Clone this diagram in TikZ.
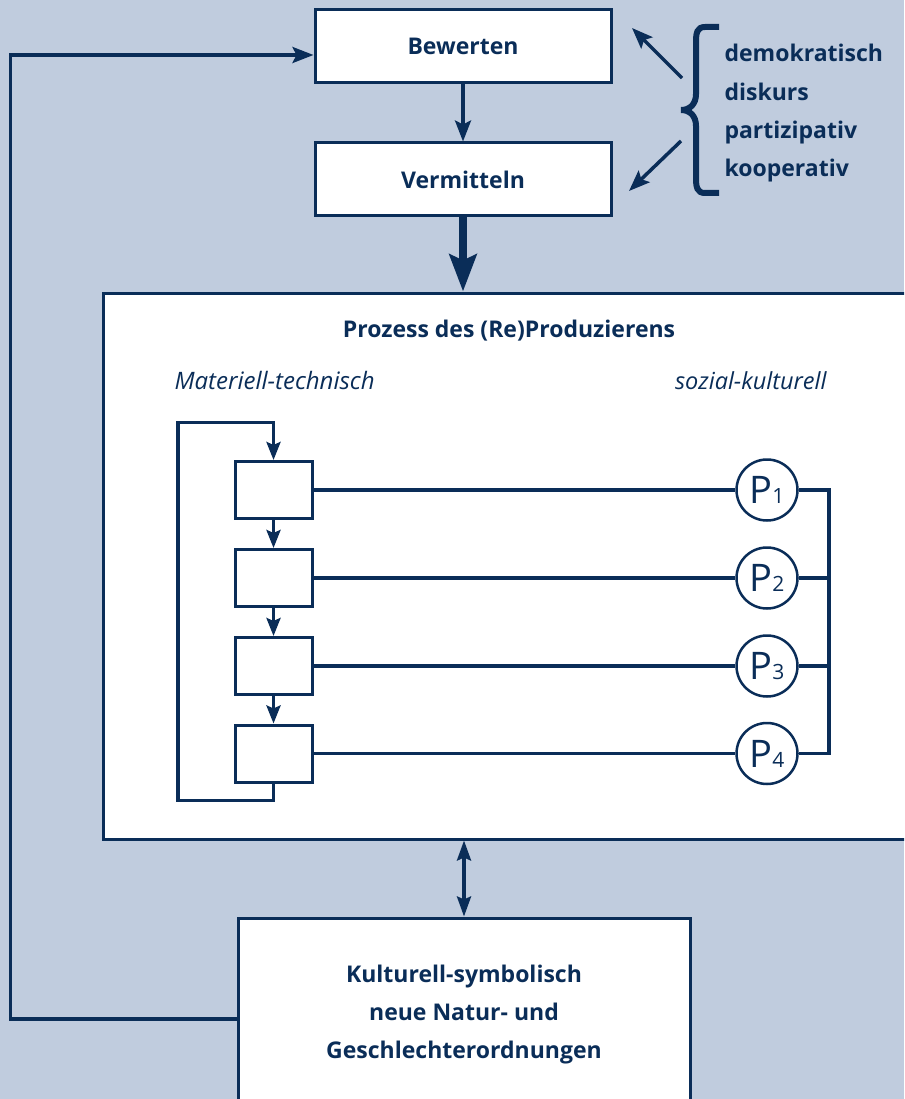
\documentclass[tikz,border=0pt]{standalone}
\usepackage{fontspec}
\setmainfont{Open Sans}
\usepackage{xcolor}
\usetikzlibrary{arrows.meta,calc,positioning}
\definecolor{navy}{RGB}{10,45,88}
\definecolor{bgblue}{RGB}{192,204,222}
\newcommand{\psub}[1]{{\fontsize{38}{38}\selectfont P}{\fontsize{21}{21}\selectfont #1}}
\tikzset{%
	box/.style       = {draw=navy, fill=white, line width=3pt, inner sep=0pt, text=navy},
	topbox/.style    = {box, minimum width=296pt, minimum height=73pt, boldtext},
	smallbox/.style  = {box, minimum width=77pt, minimum height=57pt},
	pcircle/.style   = {draw=navy, fill=white, circle, line width=2.5pt, minimum size=61pt, inner sep=0pt, text=navy},
	boldtext/.style  = {text=navy, font=\bfseries\fontsize{23}{38}\selectfont},
	itext/.style     = {text=navy, font=\itshape\fontsize{24}{26}\selectfont},
	conn/.style      = {draw=navy, line width=3.5pt},
	arrow/.style     = {conn, -{Stealth[length=21pt,width=16pt,inset=4pt]}},
	smallarrow/.style= {conn, -{Stealth[length=18pt,width=14pt,inset=3pt]}},
	dblarrow/.style  = {conn, {Stealth[length=20pt,width=14pt,inset=3pt]}-{Stealth[length=20pt,width=14pt,inset=3pt]}},
	fatarrow/.style  = {draw=navy, line width=8pt, -{Stealth[length=37pt,width=27pt,inset=6pt]}},
	brace/.style     = {draw=navy, line width=6pt},
}
\begin{document}
\begin{tikzpicture}[x=1pt,y=-1pt]
	\useasboundingbox (0,0) rectangle (904,1099);
	\clip (0,0) rectangle (904,1099);
	\fill[bgblue] (0,0) rectangle (904,1099);
	% Bewerten -> Vermitteln
	\node[topbox] (bew) at (463,46.5) {Bewerten};
	\node[topbox] (verm) at (463,179.5) {Vermitteln};
	\draw[arrow] (bew) -- (verm);
	% Klammer mit Begriffen
	\draw[brace] (719,27) -- (705,27) .. controls (697,27) and (696,33) .. (696,42)
		-- (696,94) .. controls (696,104) and (690,110) .. (681,110)
		.. controls (690,110) and (696,116) .. (696,126)
		-- (696,178) .. controls (696,187) and (697,193) .. (705,193) -- (719,193);
	\foreach \w [count=\i] in {demokratisch,diskurs,partizipativ,kooperativ}
		\node[boldtext, anchor=base west] (w\i) at (721,{62+38.3*(\i-1)}) {\w};
	\coordinate (bo) at (682,78);
	\coordinate (bu) at (681,141);
	\coordinate (bewout) at (632,28);
	\coordinate (vermin) at (629,191);
	\draw[arrow] (bo) -- (bewout);
	\draw[arrow] (bu) -- (vermin);
	% Prozess
	\node[box, minimum width=815pt, minimum height=546pt] (proz) at (510.5,566) {};
	\draw[fatarrow] (verm.south) -- (verm.south |- proz.north);
	\node[boldtext, anchor=base] (titel) at (509,337) {Prozess des (Re)Produzierens};
	\node[itext, anchor=base west] (mat) at (171,389) {Materiell-technisch};
	\node[itext, font=\itshape\fontsize{23.5}{26}\selectfont, anchor=base east] (soz) at (830,389) {sozial-kulturell};
	\foreach \i/\y in {1/490,2/578,3/666,4/753.5} {
		\node[smallbox] (b\i) at (273.5,\y) {};
		\node[pcircle] (p\i) at (767,\y) {\psub{\i}};
		\draw[conn] (b\i) -- (p\i);
	}
	\foreach \i/\j in {1/2,2/3,3/4}
		\draw[smallarrow] (b\i) -- (b\j);
	\draw[smallarrow] (b4.south) -- ++(0,17) -- ++(-95.5,0) -- ++(0,-378) -- ++(95.5,0) -- (b1.north);
	\draw[conn] (p1.east) -- ++(30,0) |- (p4.east);
	\draw[conn] (p2.east) -- ++(30,0);
	\draw[conn] (p3.east) -- ++(30,0);
	% Kulturell-symbolisch
	\node[box, boldtext, align=center, minimum width=452pt, minimum height=194pt] (kult) at (464,1015)
		{Kulturell-symbolisch\\neue Natur- und\\Geschlechterordnungen};
	\draw[dblarrow] (kult.north |- proz.south) -- (kult.north);
	% Rueckkopplung
	\coordinate (bewin) at ($(bew.west)+(0,8.5)$);
	\draw[arrow] ($(kult.west)+(0,4)$) -| ($(bewin)+(-303,0)$) -- (bewin);
\end{tikzpicture}
\end{document}
